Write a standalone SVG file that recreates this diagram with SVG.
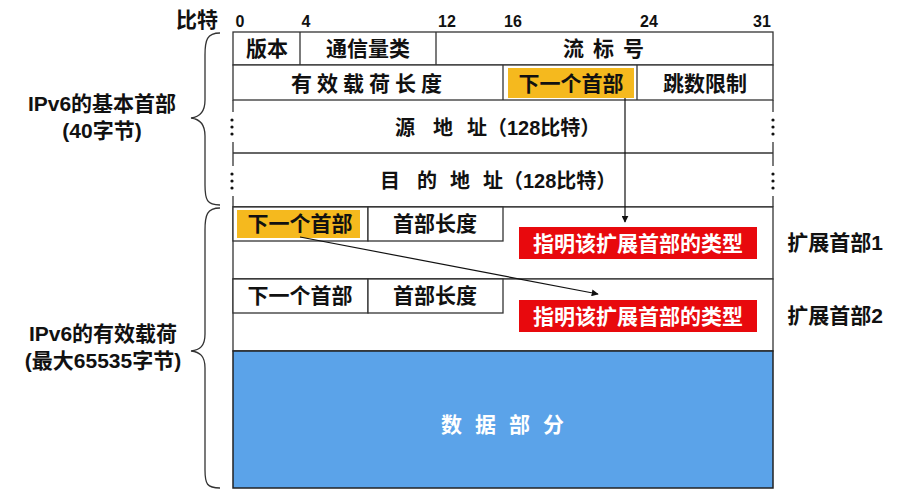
<svg xmlns="http://www.w3.org/2000/svg" width="920" height="490" viewBox="0 0 920 490">
<defs>
<style>
text{font-family:"Liberation Sans","Noto Sans CJK SC",sans-serif;font-weight:bold;fill:#111;}
.t{font-size:21px;text-anchor:middle;}
.s{font-size:20px;}
.n{font-size:16px;text-anchor:middle;}
.w{fill:#fff;}
.cell{fill:#fff;stroke:#333;stroke-width:1.3;}
.ln{stroke:#333;stroke-width:1.3;fill:none;}
.hl{fill:#F5B91E;}
.red{fill:#E8090D;}
.con{stroke:#111;stroke-width:1.2;fill:none;marker-end:url(#ah);}
.brace{stroke:#333;stroke-width:1.3;fill:none;}
</style>
<marker id="ah" viewBox="0 0 10 10" refX="9" refY="5" markerWidth="7" markerHeight="7" orient="auto" markerUnits="userSpaceOnUse">
<path d="M0,0 L10,5 L0,10 z" fill="#111"/>
</marker>
</defs>
<rect width="920" height="490" fill="#fff"/>

<g id="scale">
<text x="197" y="27" class="t">比特</text>
<text x="240" y="27" class="n">0</text>
<text x="306" y="27" class="n">4</text>
<text x="447" y="27" class="n">12</text>
<text x="513" y="27" class="n">16</text>
<text x="649" y="27" class="n">24</text>
<text x="762" y="27" class="n">31</text>
</g>

<g id="row1">
<rect class="cell" x="233" y="32" width="540" height="33"/>
<line class="ln" x1="300" y1="32" x2="300" y2="65"/>
<line class="ln" x1="436" y1="32" x2="436" y2="65"/>
<text x="267" y="56" class="t">版本</text>
<text x="368" y="56" class="t">通信量类</text>
<text x="608" y="56" class="t" letter-spacing="9">流标号</text>
</g>

<g id="row2">
<rect class="cell" x="233" y="65" width="540" height="35"/>
<line class="ln" x1="503" y1="65" x2="503" y2="100"/>
<line class="ln" x1="637" y1="65" x2="637" y2="100"/>
<rect class="hl" x="508" y="68" width="126" height="30"/>
<text x="369" y="91" class="t" letter-spacing="5">有效载荷长度</text>
<text x="571" y="91" class="t">下一个首部</text>
<text x="705" y="91" class="t">跳数限制</text>
</g>

<g id="row3">
<line class="ln" x1="233" y1="153" x2="773" y2="153"/>
<line class="ln" x1="233" y1="100" x2="233" y2="112"/>
<line class="ln" x1="233" y1="142" x2="233" y2="153"/>
<line class="ln" x1="773" y1="100" x2="773" y2="112"/>
<line class="ln" x1="773" y1="142" x2="773" y2="153"/>
<g fill="#111"><circle cx="232" cy="120" r="1.6"/><circle cx="232" cy="127" r="1.6"/><circle cx="232" cy="134" r="1.6"/>
<circle cx="773" cy="120" r="1.6"/><circle cx="773" cy="127" r="1.6"/><circle cx="773" cy="134" r="1.6"/></g>
<text y="135" class="s"><tspan x="395">源</tspan><tspan x="433">地</tspan><tspan x="467">址（128比特）</tspan></text>
</g>

<g id="row4">
<line class="ln" x1="233" y1="207" x2="773" y2="207"/>
<line class="ln" x1="233" y1="153" x2="233" y2="166"/>
<line class="ln" x1="233" y1="196" x2="233" y2="207"/>
<line class="ln" x1="773" y1="153" x2="773" y2="166"/>
<line class="ln" x1="773" y1="196" x2="773" y2="207"/>
<g fill="#111"><circle cx="232" cy="174" r="1.6"/><circle cx="232" cy="181" r="1.6"/><circle cx="232" cy="188" r="1.6"/>
<circle cx="773" cy="174" r="1.6"/><circle cx="773" cy="181" r="1.6"/><circle cx="773" cy="188" r="1.6"/></g>
<text y="188" class="s"><tspan x="380">目</tspan><tspan x="417">的</tspan><tspan x="450">地</tspan><tspan x="483">址（128比特）</tspan></text>
</g>

<g id="ext1">
<rect class="cell" x="233" y="207" width="540" height="72"/>
<rect class="cell" x="233" y="207" width="135" height="34"/>
<rect class="cell" x="368" y="207" width="135" height="34"/>
<rect class="hl" x="237" y="210" width="123" height="28"/>
<text x="300" y="231" class="t">下一个首部</text>
<text x="435" y="231" class="t">首部长度</text>
<rect class="red" x="519" y="227" width="238" height="32"/>
<text x="638" y="251" class="t w" font-size="22">指明该扩展首部的类型</text>
<text x="835" y="250" class="t">扩展首部1</text>
</g>

<g id="ext2">
<rect class="cell" x="233" y="279" width="540" height="72"/>
<rect class="cell" x="233" y="279" width="135" height="34"/>
<rect class="cell" x="368" y="279" width="135" height="34"/>
<text x="300" y="303" class="t">下一个首部</text>
<text x="435" y="303" class="t">首部长度</text>
<rect class="red" x="519" y="300" width="238" height="32"/>
<text x="638" y="324" class="t w" font-size="22">指明该扩展首部的类型</text>
<text x="835" y="323" class="t">扩展首部2</text>
</g>

<g id="data">
<rect x="233" y="351" width="540" height="137" fill="#5BA3E9" stroke="#222" stroke-width="1.5"/>
<text x="509" y="432" class="t w" letter-spacing="13">数据部分</text>
</g>

<g id="braces">
<path class="brace" d="M220,33 C207,33 205,40 205,55 L205,100 C205,112 200,117 191,118 C200,119 205,124 205,136 L205,185 C205,200 207,205 220,205"/>
<path class="brace" d="M220,208 C207,208 205,215 205,230 L205,334 C205,346 200,350 191,351 C200,352 205,356 205,368 L205,470 C205,484 207,488 220,488"/>
<text x="102" y="111" class="t" font-size="20">IPv6的基本首部</text>
<text x="102" y="138" class="t" font-size="20">(40字节)</text>
<text x="103" y="341" class="t" font-size="20">IPv6的有效载荷</text>
<text x="103" y="368" class="t" font-size="20">(最大65535字节)</text>
</g>

<g id="connectors">
<path class="con" d="M625,98 L625,222"/>
<path class="con" d="M300,237 L598,294"/>
</g>
</svg>
